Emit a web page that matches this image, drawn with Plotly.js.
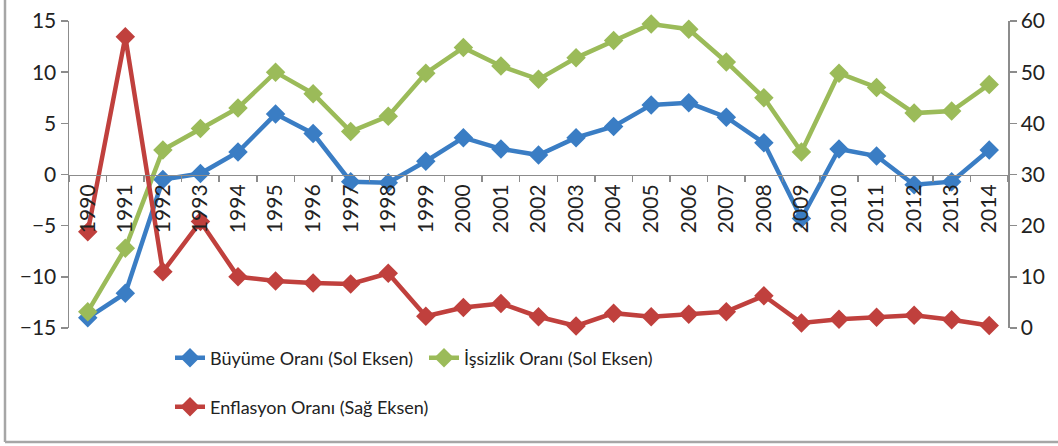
<!DOCTYPE html>
<html>
<head>
<meta charset="utf-8">
<script src="https://cdn.plot.ly/plotly-3.0.1.min.js"></script>
<style>html,body{margin:0;padding:0;background:#fff;}#chart{width:1058px;height:446px;}</style>
</head>
<body>
<div id="chart"></div>
<script>
const years = ["1990","1991","1992","1993","1994","1995","1996","1997","1998","1999","2000","2001","2002","2003","2004","2005","2006","2007","2008","2009","2010","2011","2012","2013","2014"];
const buyume = [-14.0,-11.6,-0.5,0.1,2.2,5.9,4.0,-0.7,-0.8,1.3,3.6,2.5,1.9,3.6,4.7,6.8,7.0,5.6,3.1,-4.3,2.5,1.8,-1.0,-0.7,2.4];
const issizlik = [-13.4,-7.2,2.4,4.5,6.5,10.0,7.9,4.2,5.7,9.9,12.4,10.6,9.3,11.4,13.1,14.7,14.2,11.0,7.5,2.2,9.9,8.5,6.0,6.2,8.8];
const enflasyon = [18.8,56.9,11.0,20.8,10.0,9.2,8.8,8.6,10.7,2.3,4.0,4.8,2.2,0.4,2.9,2.2,2.7,3.2,6.3,1.0,1.7,2.1,2.5,1.6,0.5];
const names = ["Büyüme Oranı (Sol Eksen)","İşsizlik Oranı (Sol Eksen)","Enflasyon Oranı (Sağ Eksen)"];
const colors = ["#3a7dc4","#9bbb59","#c0403d"];

const FONT = "Lato, 'Open Sans', sans-serif";
const TXT = "#222222";
const AX = "#8c8c8c";

function tr(y, i, yaxis, legend) {
  return {
    x: years, y: y, name: names[i], type: "scatter", mode: "lines+markers",
    yaxis: yaxis, legend: legend,
    line: {color: colors[i], width: 4.5},
    marker: {symbol: "diamond", size: 15, color: colors[i]},
    cliponaxis: false
  };
}

const data = [
  tr(buyume, 0, "y", "legend"),
  tr(issizlik, 1, "y", "legend2"),
  tr(enflasyon, 2, "y2", "legend3")
];

const px2x = p => (p - 69) / 939;
const px2y = p => (328 - p) / 307;

const legendBase = {
  orientation: "h", xanchor: "left", yanchor: "middle",
  font: {family: FONT, size: 18, color: TXT},
  bgcolor: "rgba(0,0,0,0)", borderwidth: 0
};

const tickFont = {family: FONT, size: 21, color: TXT};

const layout = {
  width: 1058, height: 446,
  margin: {l: 69, r: 50, t: 21, b: 118},
  paper_bgcolor: "#fff", plot_bgcolor: "rgba(0,0,0,0)",
  font: {family: FONT, size: 21, color: TXT},
  showlegend: true,
  xaxis: {
    type: "category", range: [-0.5, 24.5],
    anchor: "free", position: 0.5,
    showline: true, linecolor: AX, linewidth: 1.5,
    ticks: "outside", ticklen: 6, tickcolor: AX, tickwidth: 1.5,
    tickson: "boundaries", tickangle: -90,
    showgrid: false, zeroline: false,
    tickfont: tickFont
  },
  yaxis: {
    range: [-15, 15], dtick: 5, tick0: 0,
    showline: true, linecolor: AX, linewidth: 1.5,
    ticks: "outside", ticklen: 7, tickcolor: AX, tickwidth: 1.5,
    showgrid: false, zeroline: false,
    tickfont: tickFont
  },
  yaxis2: {
    overlaying: "y", side: "right", range: [0, 60], dtick: 10, tick0: 0,
    showline: true, linecolor: AX, linewidth: 1.5,
    ticks: "outside", ticklen: 7, tickcolor: AX, tickwidth: 1.5,
    showgrid: false, zeroline: false,
    tickfont: tickFont
  },
  legend: Object.assign({}, legendBase, {x: px2x(170), y: px2y(358)}),
  legend2: Object.assign({}, legendBase, {x: px2x(424), y: px2y(358)}),
  legend3: Object.assign({}, legendBase, {x: px2x(170), y: px2y(407)}),
  shapes: [
    {type: "line", xref: "paper", yref: "paper", x0: px2x(5), x1: px2x(5), y0: px2y(-2), y1: px2y(442), line: {color: "#a6a6a6", width: 2.5}},
    {type: "line", xref: "paper", yref: "paper", x0: px2x(5), x1: px2x(1060), y0: px2y(442), y1: px2y(442), line: {color: "#a6a6a6", width: 2.5}}
  ]
};

Plotly.newPlot("chart", data, layout, {displayModeBar: false, staticPlot: true});
</script>
</body>
</html>
